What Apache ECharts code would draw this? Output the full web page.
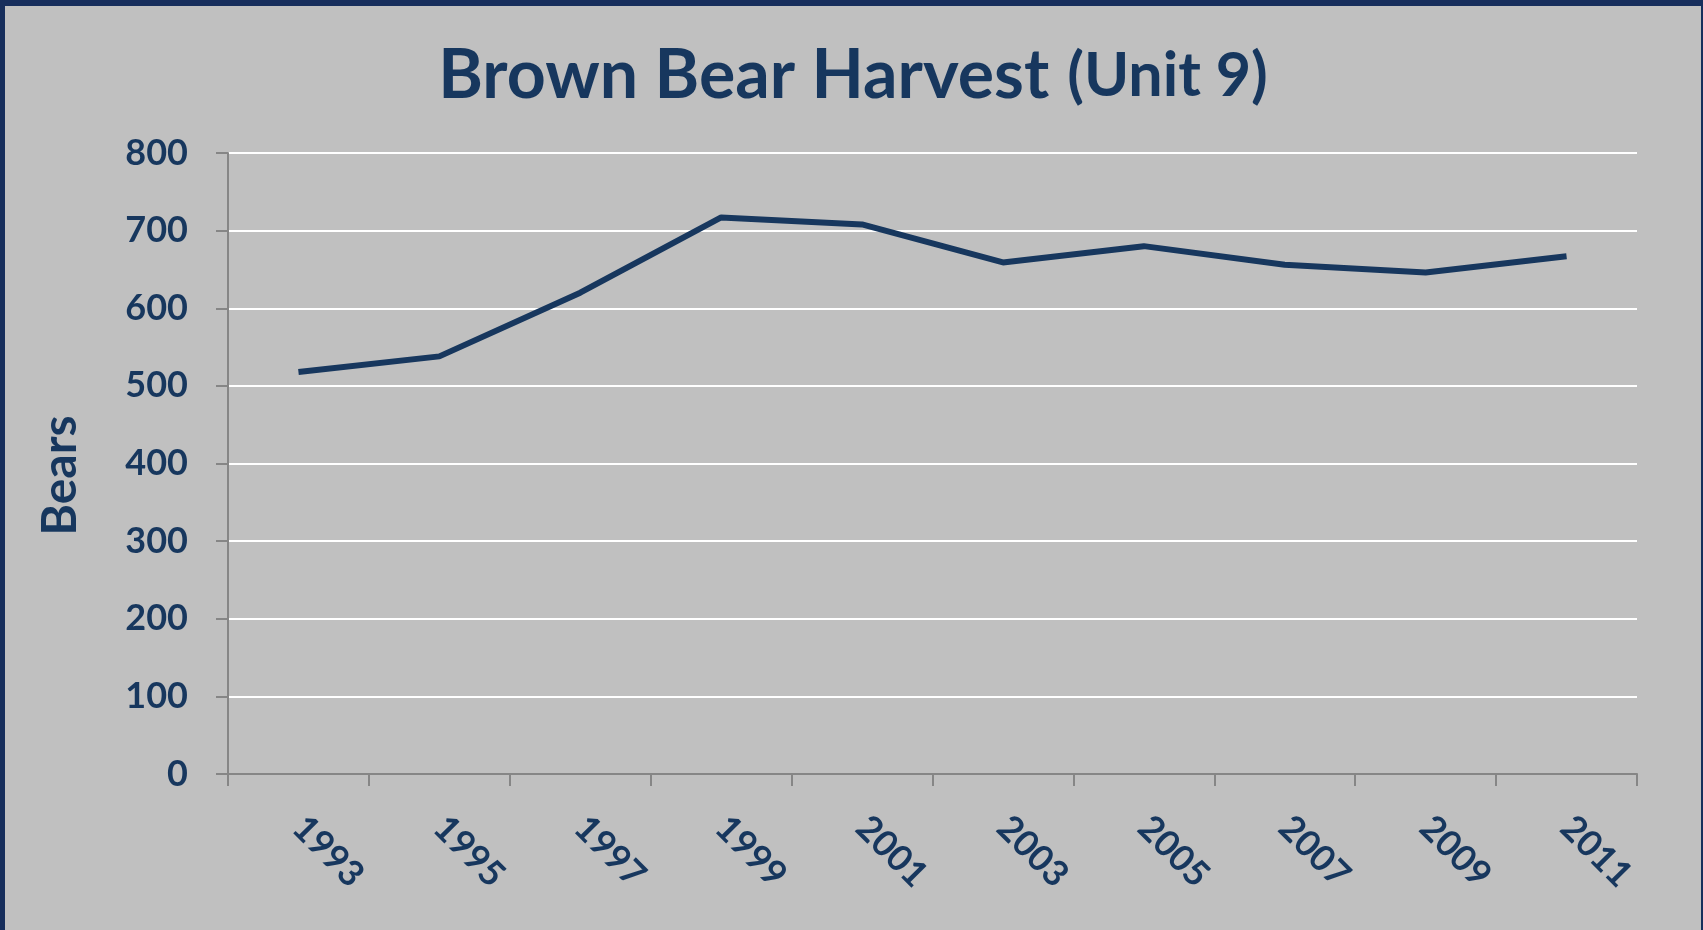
<!DOCTYPE html>
<html lang="en">

<head>
    <meta charset="UTF-8">
    <title>Brown Bear Harvest</title>
    <script src="https://cdn.jsdelivr.net/npm/echarts@6/dist/echarts.min.js"></script>
    <style>
        * {
            margin: 0;
            padding: 0;
        }

        html,
        body {
            width: 100%;
            height: 100%;
            background: #172E5C;
        }

        #main {
            position: absolute;
            top: 6px;
            left: 5px;
            right: 2px;
            bottom: 0;
            background: #C0C0C0;
        }
    </style>
</head>

<body>
    <div id="main"></div>
</body>
<script>
    var years = ['1993', '1995', '1997', '1999', '2001', '2003', '2005', '2007', '2009', '2011'];
    var bears = [518, 538, 620, 717, 708, 659, 680, 656, 646, 667];
    var yTicks = [0, 100, 200, 300, 400, 500, 600, 700, 800];

    var navy = '#17375E';
    var font = 'Lato';

    var myChart = echarts.init(document.getElementById('main'));
    myChart.setOption({
        backgroundColor: '#C0C0C0',
        title: {
            text: '{a|Brown Bear Harvest}{b|(Unit 9)}',
            left: 'center',
            top: 31,
            textStyle: {
                rich: {
                    a: { fontFamily: font, fontWeight: 'bold', fontSize: 68, color: navy },
                    b: { fontFamily: font, fontWeight: 'bold', fontSize: 61, color: navy, padding: [0, 0, 0, 18] }
                }
            }
        },
        grid: {
            left: 223,
            right: 64,
            top: 147,
            bottom: 156
        },
        xAxis: {
            type: 'category',
            data: years,
            boundaryGap: true,
            axisLine: { lineStyle: { color: '#868686', width: 2 } },
            axisTick: { show: true, length: 12, lineStyle: { color: '#868686', width: 2 } },
            axisLabel: {
                rotate: -45,
                margin: 48,
                fontFamily: font,
                fontWeight: 'bold',
                fontSize: 36,
                color: navy
            }
        },
        yAxis: {
            type: 'value',
            min: yTicks[0],
            max: yTicks[yTicks.length - 1],
            interval: 100,
            name: 'Bears',
            nameLocation: 'middle',
            nameGap: 143,
            nameRotate: 90,
            nameTextStyle: {
                fontFamily: font,
                fontWeight: 'bold',
                fontSize: 48,
                color: navy,
                padding: [0, 24, 0, 0]
            },
            axisLine: { show: true, lineStyle: { color: '#868686', width: 2 } },
            axisTick: { show: true, length: 12, lineStyle: { color: '#868686', width: 2 } },
            splitLine: { lineStyle: { color: '#FFFFFF', width: 2 } },
            axisLabel: {
                margin: 40,
                fontFamily: font,
                fontWeight: 'bold',
                fontSize: 36,
                color: navy
            }
        },
        series: [
            {
                type: 'line',
                name: 'Bears',
                data: bears,
                showSymbol: false,
                lineStyle: { color: navy, width: 6 },
                itemStyle: { color: navy }
            }
        ]
    });
</script>

</html>
